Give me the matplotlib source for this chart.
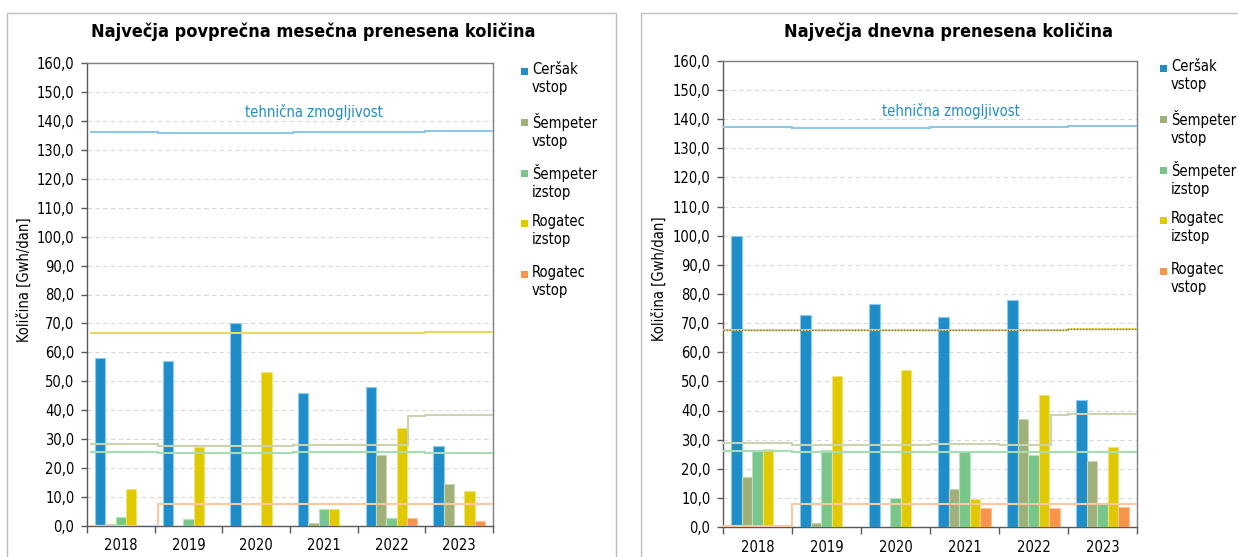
import matplotlib
matplotlib.use("Agg")
import matplotlib.pyplot as plt
from matplotlib.patches import Rectangle
import numpy as np

# ---------------- data ----------------
years = ['2018', '2019', '2020', '2021', '2022', '2023']
series_labels = ['Ceršak\nvstop', 'Šempeter\nvstop', 'Šempeter\nizstop', 'Rogatec\nizstop', 'Rogatec\nvstop']

# Največja povprečna mesečna prenesena količina [GWh/dan]
avg_cersak_vstop = [58.0, 56.9, 70.0, 45.8, 47.9, 27.5]
avg_sempeter_vstop = [0.6, 0.0, 0.0, 0.9, 24.4, 14.4]
avg_sempeter_izstop = [3.2, 2.4, 0.3, 6.0, 2.9, 0.3]
avg_rogatec_izstop = [12.9, 27.2, 53.2, 6.0, 33.8, 12.1]
avg_rogatec_vstop = [0.0, 0.0, 0.0, 0.0, 2.8, 1.9]

# Največja dnevna prenesena količina [GWh/dan]
day_cersak_vstop = [100.0, 72.9, 76.5, 72.1, 77.8, 43.5]
day_sempeter_vstop = [17.3, 1.4, 0.0, 13.2, 37.2, 22.6]
day_sempeter_izstop = [26.1, 26.5, 10.1, 25.8, 24.8, 8.2]
day_rogatec_izstop = [26.7, 52.0, 53.8, 9.7, 45.4, 27.4]
day_rogatec_vstop = [0.0, 0.0, 0.0, 6.6, 6.4, 6.9]

# technical capacity (tehnična zmogljivost): change times (fractional year) and values
avg_cap_cersak_t = [2018.06, 2019.05, 2021.05, 2023.0]
avg_cap_cersak_v = [136.2, 135.8, 136.2, 136.6]
avg_cap_rog_iz_t = [2018.06, 2023.0]
avg_cap_rog_iz_v = [66.8, 67.2]
avg_cap_semp_vs_t = [2018.06, 2019.05, 2021.05, 2022.75, 2023.0]
avg_cap_semp_vs_v = [28.2, 27.6, 28.0, 37.9, 38.2]
avg_cap_semp_iz_t = [2018.06, 2019.05, 2021.05, 2023.0]
avg_cap_semp_iz_v = [25.7, 25.1, 25.4, 25.1]
avg_cap_rog_vs_t = [2018.06, 2019.05]
avg_cap_rog_vs_v = [0.0, 7.7]

day_cap_cersak_t = [2018.0, 2019.0, 2021.0, 2023.0]
day_cap_cersak_v = [137.4, 137.1, 137.4, 137.8]
day_cap_rog_iz_t = [2018.0, 2019.0, 2021.0, 2023.0]
day_cap_rog_iz_v = [67.7, 67.5, 67.6, 68.0]
day_cap_semp_vs_t = [2018.0, 2019.0, 2021.0, 2022.0, 2022.75, 2023.0]
day_cap_semp_vs_v = [28.7, 28.3, 28.6, 28.3, 38.5, 38.8]
day_cap_semp_iz_t = [2018.0, 2019.0]
day_cap_semp_iz_v = [26.1, 25.8]
day_cap_rog_vs_t = [2018.0, 2019.0]
day_cap_rog_vs_v = [0.5, 8.0]

end_year = 2024.0
first_year = 2018

# ---------------- style ----------------
bar_colors = ['#1F8DC8', '#A0B07A', '#78C68A', '#E0C900', '#F7944A']
bar_edges = ['#8CCBEF', '#C9D4B0', '#B5E3C0', '#F2E27A', '#FBC49C']
cap_colors = {'cersak': '#8DC8EA', 'rog_iz': '#E8DA5A', 'semp_vs': '#C9D3B0',
              'semp_iz': '#A6DDB2', 'rog_vs': '#FBC8A0'}

plt.rcParams['font.family'] = ['DejaVu Sans']
plt.rcParams['font.stretch'] = 'condensed'

W, H = 1238, 557
fig = plt.figure(figsize=(W / 100, H / 100), dpi=100)


def fx(px):
    return px / W


def fy(py):
    return 1 - py / H


# panel borders
fig.add_artist(Rectangle((fx(7), fy(570)), fx(609), fy(13) - fy(570), transform=fig.transFigure,
                         fill=False, edgecolor='#BFBFBF', linewidth=1.0))
fig.add_artist(Rectangle((fx(641), fy(570)), fx(620), fy(13) - fy(570), transform=fig.transFigure,
                         fill=False, edgecolor='#BFBFBF', linewidth=1.0))


def step_xy(ts, vs):
    xs, ys = [], []
    for i, (t, v) in enumerate(zip(ts, vs)):
        t_end = ts[i + 1] if i + 1 < len(ts) else end_year
        xs += [t - first_year - 0.5, t_end - first_year - 0.5]
        ys += [v, v]
    return xs, ys


def draw_chart(ax, data, caps, title, title_x, label_x, legend_x0, legend_y0, dotted=False):
    x = np.arange(len(years))
    bw = 0.153
    for i, vals in enumerate(data):
        ax.bar(x + (i - 2) * bw, vals, width=bw, color=bar_colors[i], edgecolor=bar_edges[i],
               linewidth=0.8, zorder=3)
    for key, (ts, vs) in caps.items():
        xs, ys = step_xy(ts, vs)
        ax.plot(xs, ys, color=cap_colors[key], linewidth=1.5, zorder=4, solid_joinstyle='miter')
        if dotted and key == 'rog_iz':
            ax.plot(xs, ys, color='#6E6E8A', linewidth=1.0, linestyle=(0, (1, 1.2)), zorder=5)
    ax.set_xlim(-0.5, 5.5)
    ax.set_ylim(0, 160)
    ax.set_yticks(np.arange(0, 161, 10))
    ax.set_yticklabels([f'{v:.1f}'.replace('.', ',') for v in np.arange(0, 161, 10)], fontsize=10.5)
    ax.set_xticks(x)
    ax.set_xticklabels(years, fontsize=10.5)
    ax.set_xticks(np.arange(-0.5, 5.6, 1), minor=True)
    ax.tick_params(axis='x', which='major', length=0, pad=9)
    ax.tick_params(axis='x', which='minor', length=5, width=1, color='#595959')
    ax.tick_params(axis='y', length=4, width=1, color='#595959', pad=5)
    ax.yaxis.grid(True, color='#D9D9D9', linestyle=(0, (4, 3)), linewidth=0.8, zorder=0)
    ax.set_axisbelow(True)
    for s in ['top', 'right']:
        ax.spines[s].set_color('#7F7F7F')
    for s in ['left', 'bottom']:
        ax.spines[s].set_color('#595959')
    for s in ax.spines.values():
        s.set_linewidth(1.0)
    ax.set_ylabel('Količina [Gwh/dan]', fontsize=10.5, labelpad=3)
    ax.yaxis.set_label_coords(-0.135, 0.533)
    ax.text(label_x, 143, 'tehnična zmogljivost', color='#1F8DC8', fontsize=10.5,
            ha='center', va='center', transform=ax.transData)
    fig.text(fx(title_x), fy(32), title, fontsize=13, fontweight='bold', ha='center', va='center')
    # legend
    for i, lab in enumerate(series_labels):
        yc = legend_y0 + i * 50.8
        fig.add_artist(Rectangle((fx(legend_x0), fy(yc + 4)), fx(7), fy(yc - 3) - fy(yc + 4),
                                 transform=fig.transFigure, facecolor=bar_colors[i], edgecolor='none'))
        fig.text(fx(legend_x0 + 11), fy(yc - 9), lab, fontsize=10.5, ha='left', va='top',
                 linespacing=1.25)


ax1 = fig.add_axes([fx(87), fy(526), fx(493 - 87), fy(63) - fy(526)])
draw_chart(ax1,
           [avg_cersak_vstop, avg_sempeter_vstop, avg_sempeter_izstop, avg_rogatec_izstop, avg_rogatec_vstop],
           {'cersak': (avg_cap_cersak_t, avg_cap_cersak_v), 'rog_iz': (avg_cap_rog_iz_t, avg_cap_rog_iz_v),
            'semp_vs': (avg_cap_semp_vs_t, avg_cap_semp_vs_v), 'semp_iz': (avg_cap_semp_iz_t, avg_cap_semp_iz_v),
            'rog_vs': (avg_cap_rog_vs_t, avg_cap_rog_vs_v)},
           'Največja povprečna mesečna prenesena količina', 313, 2.85, 521, 71)

ax2 = fig.add_axes([fx(723), fy(527), fx(1137 - 723), fy(61) - fy(527)])
draw_chart(ax2,
           [day_cersak_vstop, day_sempeter_vstop, day_sempeter_izstop, day_rogatec_izstop, day_rogatec_vstop],
           {'cersak': (day_cap_cersak_t, day_cap_cersak_v), 'rog_iz': (day_cap_rog_iz_t, day_cap_rog_iz_v),
            'semp_vs': (day_cap_semp_vs_t, day_cap_semp_vs_v), 'semp_iz': (day_cap_semp_iz_t, day_cap_semp_iz_v),
            'rog_vs': (day_cap_rog_vs_t, day_cap_rog_vs_v)},
           'Največja dnevna prenesena količina', 948, 2.8, 1160, 68, dotted=True)

fig.savefig('out.png', dpi=100, facecolor='white')
